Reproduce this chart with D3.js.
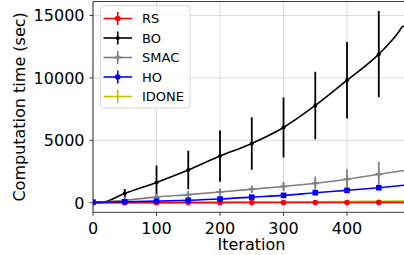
<!DOCTYPE html>
<html>
<head>
<meta charset="utf-8">
<script src="https://cdn.jsdelivr.net/npm/d3@7"></script>
<style>
  body { margin: 0; background: #fff; }
  svg { display: block; font-family: "DejaVu Sans", sans-serif; }
</style>
</head>
<body>
<div id="chart"></div>
<script>
// data
const iterations = [0, 50, 100, 150, 200, 250, 300, 350, 400, 450, 499];
const rsTime = [0, 5, 8, 10, 12, 15, 18, 20, 22, 25, 30];
const rsErr = [0, 20, 20, 20, 20, 20, 20, 20, 20, 20, 20];
const boIterations = [0, 15, 50, 100, 150, 200, 250, 300, 350, 400, 450, 483, 487, 492, 499];
const boTime = [0, 30, 750, 1630, 2620, 3736, 4750, 6030, 7790, 9816, 11900, 13800, 14100, 14150, 14400];
const boErr = [0, 0, 350, 1350, 1550, 2050, 2100, 2400, 2700, 3060, 3450, 0, 0, 0, 0];
const smacTime = [0, 200, 450, 650, 860, 1080, 1300, 1560, 1880, 2280, 2650];
const smacErr = [0, 60, 100, 150, 200, 270, 380, 550, 800, 1000, 0];
const hoTime = [50, 80, 130, 200, 300, 450, 590, 800, 990, 1200, 1440];
const hoErr = [20, 30, 40, 50, 60, 70, 80, 90, 100, 110, 0];
const idoneTime = [0, 10, 20, 30, 40, 50, 60, 80, 100, 120, 140];
const idoneErr = [0, 10, 10, 10, 10, 10, 10, 10, 10, 10, 0];
const xTicks = [0, 100, 200, 300, 400];
const yTicks = [0, 5000, 10000, 15000];

const series = [
  { name: "IDONE", color: "#bfbf00", xs: iterations, ys: idoneTime, err: idoneErr, marker: "none", order: 4 },
  { name: "RS", color: "#ff0000", xs: iterations, ys: rsTime, err: rsErr, marker: "circle", order: 0 },
  { name: "BO", color: "#000000", xs: boIterations, ys: boTime, err: boErr, marker: "dot", order: 1 },
  { name: "SMAC", color: "#808080", xs: iterations, ys: smacTime, err: smacErr, marker: "plus", order: 2 },
  { name: "HO", color: "#0000ff", xs: iterations, ys: hoTime, err: hoErr, marker: "square", order: 3 }
];

const width = 404, height = 255;
const pLeft = 93, pRight = 409.9, pTop = 1.5, pBottom = 212.3;

const svg = d3.select("#chart").append("svg")
  .attr("width", width)
  .attr("height", height);

const x = d3.scaleLinear().domain([0, 499]).range([pLeft, pRight]);
const y = d3.scaleLinear().domain([-767, 16119]).range([pBottom, pTop]);

// grid
svg.append("g").selectAll("line.vgrid")
  .data(xTicks).enter().append("line")
  .attr("x1", d => x(d)).attr("x2", d => x(d))
  .attr("y1", pTop).attr("y2", pBottom)
  .attr("stroke", "#d0d0d0").attr("stroke-width", 0.8);
svg.append("g").selectAll("line.hgrid")
  .data(yTicks).enter().append("line")
  .attr("x1", pLeft).attr("x2", pRight)
  .attr("y1", d => y(d)).attr("y2", d => y(d))
  .attr("stroke", "#d0d0d0").attr("stroke-width", 0.8);

svg.append("clipPath").attr("id", "plotclip")
  .append("rect").attr("x", pLeft).attr("y", pTop)
  .attr("width", pRight - pLeft).attr("height", pBottom - pTop);

const plot = svg.append("g").attr("clip-path", "url(#plotclip)");

function drawMarker(g, kind, cx, cy, color, s) {
  if (kind === "circle") {
    g.append("circle").attr("cx", cx).attr("cy", cy).attr("r", 2.8 * s).attr("fill", color);
  } else if (kind === "dot") {
    g.append("circle").attr("cx", cx).attr("cy", cy).attr("r", 2 * s).attr("fill", color);
  } else if (kind === "square") {
    g.append("rect").attr("x", cx - 2.8 * s).attr("y", cy - 2.8 * s)
      .attr("width", 5.6 * s).attr("height", 5.6 * s).attr("fill", color);
  } else if (kind === "plus") {
    g.append("path").attr("d", `M${cx - 3.5 * s},${cy}H${cx + 3.5 * s}M${cx},${cy - 3.5 * s}V${cy + 3.5 * s}`)
      .attr("stroke", color).attr("stroke-width", 1.8);
  }
}

const line = d3.line().curve(d3.curveMonotoneX);

series.forEach(s => {
  const g = plot.append("g");
  const pts = s.xs.map((d, i) => [x(d), y(s.ys[i])]);
  g.append("path")
    .attr("d", line(pts))
    .attr("fill", "none")
    .attr("stroke", s.color)
    .attr("stroke-width", 1.6);
  s.xs.forEach((d, i) => {
    if (d % 50 !== 0 || d >= 499) return;
    g.append("line")
      .attr("x1", x(d)).attr("x2", x(d))
      .attr("y1", y(s.ys[i] - s.err[i])).attr("y2", y(s.ys[i] + s.err[i]))
      .attr("stroke", s.color).attr("stroke-width", 1.8);
    drawMarker(g, s.marker, x(d), y(s.ys[i]), s.color, 1);
  });
});

// spines
svg.append("path")
  .attr("d", `M${pRight},${pTop}H${pLeft}V${pBottom}H${pRight}`)
  .attr("fill", "none").attr("stroke", "#222").attr("stroke-width", 0.9);

// ticks
svg.append("g").selectAll("line")
  .data(xTicks).enter().append("line")
  .attr("x1", d => x(d)).attr("x2", d => x(d))
  .attr("y1", pBottom).attr("y2", pBottom + 3.5)
  .attr("stroke", "#222").attr("stroke-width", 0.9);
svg.append("g").selectAll("text")
  .data(xTicks).enter().append("text")
  .attr("x", d => x(d)).attr("y", pBottom + 21.5)
  .attr("text-anchor", "middle")
  .attr("font-size", 16)
  .text(d => d);

svg.append("g").selectAll("line")
  .data(yTicks).enter().append("line")
  .attr("x1", pLeft - 3.5).attr("x2", pLeft)
  .attr("y1", d => y(d)).attr("y2", d => y(d))
  .attr("stroke", "#222").attr("stroke-width", 0.9);
svg.append("g").selectAll("text")
  .data(yTicks).enter().append("text")
  .attr("x", pLeft - 8.5).attr("y", d => y(d) + 5.8)
  .attr("text-anchor", "end")
  .attr("font-size", 16)
  .text(d => d);

// axis labels
svg.append("text")
  .attr("x", (pLeft + pRight) / 2).attr("y", 250)
  .attr("text-anchor", "middle")
  .attr("font-size", 16)
  .text("Iteration");
svg.append("text")
  .attr("transform", `translate(25,${(pTop + pBottom) / 2}) rotate(-90)`)
  .attr("text-anchor", "middle")
  .attr("font-size", 16)
  .text("Computation time (sec)");

// legend
const legend = svg.append("g");
legend.append("rect")
  .attr("x", 100.5).attr("y", 5.5)
  .attr("width", 89.5).attr("height", 102.5)
  .attr("rx", 3)
  .attr("fill", "#fff").attr("fill-opacity", 0.85)
  .attr("stroke", "#d6d6d6").attr("stroke-width", 1);

const legendOrder = series.slice().sort((a, b) => a.order - b.order);
legendOrder.forEach((s, i) => {
  const ly = 18.5 + i * 19.5;
  const g = legend.append("g");
  g.append("line")
    .attr("x1", 103.5).attr("x2", 132)
    .attr("y1", ly).attr("y2", ly)
    .attr("stroke", s.color).attr("stroke-width", 1.6);
  g.append("line")
    .attr("x1", 117.75).attr("x2", 117.75)
    .attr("y1", ly - 6.5).attr("y2", ly + 6.5)
    .attr("stroke", s.color).attr("stroke-width", 1.6);
  drawMarker(g, s.marker === "square" ? "circle" : s.marker, 117.75, ly, s.color, 1);
  g.append("text")
    .attr("x", 142).attr("y", ly + 4.7)
    .attr("font-size", 13)
    .text(s.name);
});
</script>
</body>
</html>
